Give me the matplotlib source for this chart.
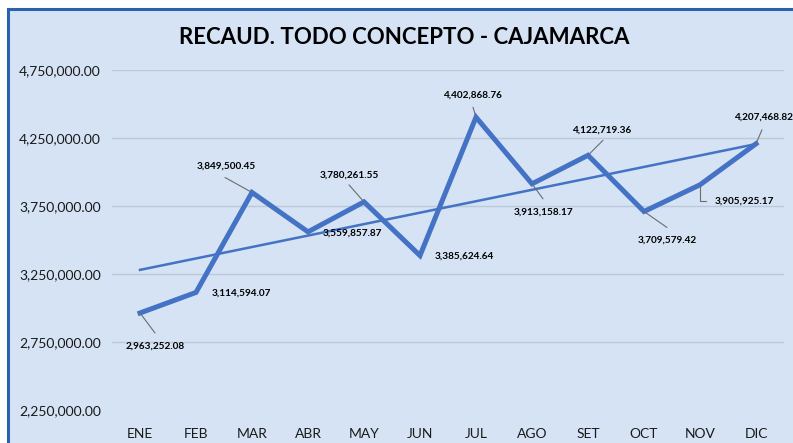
import numpy as np
import matplotlib
matplotlib.use('Agg')
import matplotlib.pyplot as plt
import matplotlib.ticker as mticker
from matplotlib.patches import Rectangle

# ── Data ─────────────────────────────────────────────────────────
meses = ['ENE', 'FEB', 'MAR', 'ABR', 'MAY', 'JUN',
         'JUL', 'AGO', 'SET', 'OCT', 'NOV', 'DIC']
recaudacion = [2963252.08, 3114594.07, 3849500.45, 3559857.87,
               3780261.55, 3385624.64, 4402868.76, 3913158.17,
               4122719.36, 3709579.42, 3905925.17, 4207468.82]
y_ticks = [2250000, 2750000, 3250000, 3750000, 4250000, 4750000]

# label placement: (dx, dy, ha, leader end offset or None) in pixels
_LABEL_POS = [
    (15, -33, 'center', (15, -20)),
    (16, -1, 'left', None),
    (-26, 26, 'center', (-27, 15)),
    (15, -1, 'left', None),
    (-15, 27, 'center', (-15, 17)),
    (15, -1, 'left', None),
    (-4, 22, 'center', (-3, 10)),
    (11, -28, 'center', (11, -15)),
    (14, 25, 'center', (15, 15)),
    (23, -29, 'center', (23, -16)),
    (15, -16, 'left', 'elbow'),
    (7, 27, 'center', (6, 14)),
]

LINE_C = '#4472C4'
BG_C = '#D5E3F4'
EDGE_C = '#2B62AE'
GRID_C = '#BCC9DA'

plt.rcParams['font.family'] = ['Lato', 'DejaVu Sans']

W, H = 793, 443
fig = plt.figure(figsize=(W / 100, H / 100), dpi=100)
fig.patch.set_facecolor('white')

# chart frame (cropped on the right and bottom)
fig.patches.append(Rectangle((8 / W, -0.05), 1.2, 1 - 9 / H + 0.05,
                             transform=fig.transFigure, facecolor=BG_C,
                             edgecolor=EDGE_C, linewidth=2.2, zorder=-10))

ax = fig.add_axes([112 / W, 33 / H, 672 / W, 340 / H])
ax.set_facecolor('none')
ax.set_zorder(2)

x = np.arange(len(meses))
y = np.array(recaudacion)

# linear trend (as in the spreadsheet trendline)
coef = np.polyfit(x, y, 1)
ax.plot(x, np.polyval(coef, x), color=LINE_C, linewidth=1.8, zorder=3)
ax.plot(x, y, color=LINE_C, linewidth=3.6, solid_joinstyle='miter', zorder=4)

for i, (v, (dx, dy, ha, lead)) in enumerate(zip(recaudacion, _LABEL_POS)):
    ax.annotate(f'{v:,.2f}', xy=(i, v), xytext=(dx, dy),
                textcoords='offset pixels', ha=ha, va='center',
                fontsize=7.2, fontweight='bold', color='black', zorder=6)
    if lead == 'elbow':
        ax.annotate('', xy=(i, v), xytext=(dx - 9, dy),
                    textcoords='offset pixels',
                    arrowprops=dict(arrowstyle='-', color='#6d6d6d', lw=0.8,
                                    shrinkA=0, shrinkB=1,
                                    connectionstyle='angle,angleA=0,angleB=90,rad=0'),
                    zorder=5)
    elif lead is not None:
        ax.annotate('', xy=(i, v), xytext=lead, textcoords='offset pixels',
                    arrowprops=dict(arrowstyle='-', color='#6d6d6d', lw=0.8,
                                    shrinkA=0, shrinkB=1),
                    zorder=5)

ax.set_xlim(-0.5, len(meses) - 0.5)
ax.set_ylim(2250000, 4750000)
ax.set_yticks(y_ticks)
ax.yaxis.set_major_formatter(mticker.FuncFormatter(lambda v, p: f'{v:,.2f}'))
ax.set_xticks(x)
ax.set_xticklabels(meses)
ax.tick_params(axis='both', length=0, labelsize=10, colors='#1a1a1a')
ax.tick_params(axis='x', pad=13)
ax.tick_params(axis='y', pad=8)

ax.grid(axis='y', color=GRID_C, linewidth=1.0, zorder=1)
ax.yaxis.get_gridlines()[0].set_visible(False)
ax.set_axisbelow(True)
for s in ax.spines.values():
    s.set_visible(False)

fig.text(404 / W, 1 - 37 / H, 'RECAUD. TODO CONCEPTO - CAJAMARCA',
         ha='center', va='center', fontsize=16, fontweight='bold',
         color='black')

fig.savefig('out.png', dpi=100)
